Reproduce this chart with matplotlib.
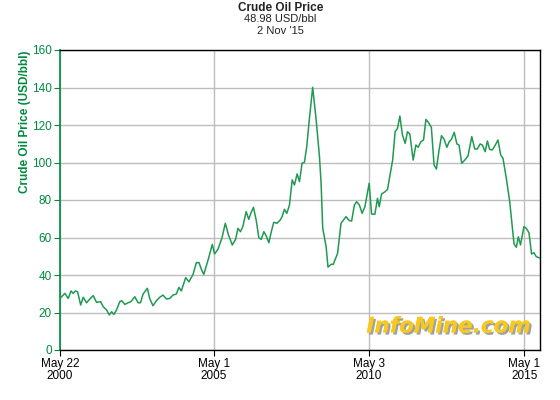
import matplotlib
matplotlib.use("Agg")
import matplotlib.pyplot as plt
import matplotlib.patheffects as pe
import pandas as pd

plt.rcParams['font.family'] = ['Liberation Sans', 'DejaVu Sans']

title = "Crude Oil Price"
subtitle1 = "48.98 USD/bbl"
subtitle2 = "2 Nov '15"
ylabel = "Crude Oil Price (USD/bbl)"

dates = [
    "2000-05-22", "2000-07-19", "2000-08-27", "2000-09-28", "2000-10-24", "2000-11-22", "2000-12-15",
    "2001-01-20", "2001-02-19", "2001-03-30", "2001-05-08", "2001-06-16", "2001-07-26", "2001-09-11",
    "2001-10-12", "2001-11-21", "2001-12-22", "2002-01-19", "2002-02-15", "2002-03-17", "2002-04-25",
    "2002-05-18", "2002-06-23", "2002-08-01", "2002-09-02", "2002-10-18", "2002-11-26", "2002-12-24",
    "2003-01-24", "2003-03-15", "2003-04-11", "2003-05-20", "2003-06-29", "2003-08-07", "2003-09-15",
    "2003-10-24", "2003-12-02", "2004-01-11", "2004-02-19", "2004-03-20", "2004-04-17", "2004-06-07",
    "2004-07-16", "2004-09-02", "2004-10-11", "2004-11-11", "2004-12-09", "2005-01-06", "2005-03-03",
    "2005-04-16", "2005-05-13", "2005-06-21", "2005-08-07", "2005-09-16", "2005-10-24", "2005-12-07",
    "2006-01-15", "2006-02-12", "2006-03-13", "2006-04-10", "2006-05-19", "2006-06-19", "2006-07-17",
    "2006-08-13", "2006-09-14", "2006-10-15", "2006-11-13", "2006-12-13", "2007-01-10", "2007-02-10",
    "2007-03-08", "2007-04-08", "2007-05-17", "2007-06-23", "2007-07-15", "2007-08-12", "2007-09-09",
    "2007-10-10", "2007-11-11", "2007-12-08", "2008-01-08", "2008-02-05", "2008-03-06", "2008-04-03",
    "2008-04-30", "2008-06-01", "2008-07-09", "2008-08-19", "2008-09-27", "2008-10-16", "2008-11-04",
    "2008-12-14", "2009-01-05", "2009-02-11", "2009-03-08", "2009-04-28", "2009-06-07", "2009-08-05",
    "2009-09-13", "2009-10-10", "2009-11-11", "2009-12-08", "2010-01-09", "2010-02-10", "2010-03-15",
    "2010-05-04", "2010-06-01", "2010-07-10", "2010-08-10", "2010-08-30", "2010-09-27", "2010-11-06",
    "2010-12-06", "2011-01-04", "2011-02-04", "2011-03-05", "2011-04-02", "2011-04-30", "2011-05-30",
    "2011-07-01", "2011-07-28", "2011-08-25", "2011-10-03", "2011-11-04", "2011-12-01", "2012-01-02",
    "2012-02-02", "2012-03-01", "2012-04-02", "2012-05-04", "2012-06-05", "2012-07-02", "2012-08-03",
    "2012-08-31", "2012-10-01", "2012-11-02", "2012-11-30", "2012-12-26", "2013-01-28", "2013-02-28",
    "2013-03-25", "2013-04-26", "2013-06-01", "2013-07-09", "2013-08-22", "2013-09-26", "2013-10-27",
    "2013-11-28", "2013-12-25", "2014-01-26", "2014-02-22", "2014-03-20", "2014-04-20", "2014-05-21",
    "2014-06-26", "2014-07-28", "2014-08-24", "2014-10-02", "2014-11-11", "2015-01-01", "2015-01-28",
    "2015-02-20", "2015-03-18", "2015-04-27", "2015-05-24", "2015-06-25", "2015-07-26", "2015-08-22",
    "2015-09-19", "2015-11-02",
]
prices = [
    27.5, 30.2, 27.5, 31.5, 30.2, 31.5, 31.0,
    24.0, 28.1, 25.2, 27.2, 29.0, 25.4, 25.8,
    23.1, 21.3, 18.7, 20.4, 19.0, 21.3, 25.8,
    26.3, 24.3, 25.2, 25.8, 28.4, 25.2, 25.2,
    29.9, 32.9, 27.5, 23.6, 26.3, 28.1, 29.3,
    27.2, 27.5, 29.3, 29.9, 33.4, 31.5, 38.6,
    36.4, 40.3, 46.6, 46.6, 43.0, 40.3, 48.9,
    56.3, 51.2, 53.7, 59.6, 67.6, 61.3, 56.0,
    59.0, 64.9, 63.1, 65.8, 73.8, 69.7, 73.4,
    76.1, 69.3, 59.9, 59.0, 63.1, 60.8, 57.2,
    62.6, 68.1, 67.6, 69.3, 71.1, 75.0, 72.9,
    77.3, 90.7, 88.0, 93.9, 89.8, 99.6, 100.1,
    108.4, 123.6, 140.1, 122.7, 103.0, 88.9, 65.0,
    55.1, 44.2, 45.7, 45.7, 51.6, 67.6, 71.1,
    69.0, 68.8, 77.3, 79.1, 77.3, 72.9, 76.4,
    88.9, 72.5, 72.4, 80.9, 76.4, 83.2, 84.4,
    85.7, 93.3, 101.3, 116.4, 118.2, 124.8, 114.7,
    110.2, 116.4, 115.2, 101.3, 109.3, 108.1, 111.1,
    112.0, 123.0, 121.2, 118.7, 98.7, 96.5, 106.7,
    114.3, 112.4, 108.1, 111.1, 112.4, 116.1, 109.9,
    109.3, 99.6, 101.3, 103.5, 113.8, 107.2, 107.2,
    109.9, 109.3, 105.8, 111.5, 107.0, 106.7, 108.9,
    112.0, 104.0, 102.2, 91.6, 79.1, 56.5, 54.8,
    60.4, 56.0, 65.8, 64.9, 62.6, 51.2, 51.9,
    49.8, 48.98,
]

tick_dates = ["2000-05-22", "2005-05-01", "2010-05-03", "2015-05-01"]
tick_labels = ["May 22\n2000", "May 1\n2005", "May 3\n2010", "May 1\n2015"]
y_ticks = [0, 20, 40, 60, 80, 100, 120, 140, 160]

green_line = "#1f9a52"
green_axis = "#008a3e"

x = pd.to_datetime(dates)

fig = plt.figure(figsize=(5.6, 4.0), dpi=100)
ax = fig.add_axes([60/560, 50/400, 480/560, 300/400])

ax.plot(x, prices, color=green_line, lw=1.1, zorder=3)

ax.set_xlim(pd.Timestamp("2000-05-22"), pd.Timestamp("2015-11-02"))
ax.set_ylim(0, 160)
ax.set_yticks(y_ticks)
ax.set_yticklabels([str(v) for v in y_ticks], color=green_axis, fontsize=8.5)
ax.set_xticks(pd.to_datetime(tick_dates))
ax.set_xticklabels(tick_labels, fontsize=8.5, color="black", linespacing=1.0)

ax.grid(True, color="#bdbdbd", lw=1.0, zorder=0)
ax.set_axisbelow(True)

for s in ["top", "right", "bottom"]:
    ax.spines[s].set_color("black")
    ax.spines[s].set_linewidth(1.0)
ax.spines["left"].set_color(green_axis)
ax.spines["left"].set_linewidth(1.2)

ax.tick_params(axis="y", direction="out", length=4, color=green_axis, pad=2)
ax.tick_params(axis="x", direction="out", length=4, color="black", pad=2)

ax.set_ylabel(ylabel, color=green_axis, fontsize=8.5, fontweight="bold", va="center", ha="center")
ax.yaxis.set_label_coords(-0.072, 0.76)

fig.text(280.5/560, 1 - 8/400, title, ha="center", va="center", fontsize=8.5, fontweight="bold", color="#222222")
fig.text(280/560, 1 - 19.5/400, subtitle1, ha="center", va="center", fontsize=8, color="#222222")
fig.text(280/560, 1 - 31/400, subtitle2, ha="center", va="center", fontsize=8, color="#222222")

ax.text(0.98, 0.045, "InfoMine.com", transform=ax.transAxes, ha="right", va="bottom",
        fontsize=15.5, fontweight="bold", fontstyle="italic", color="#f7c81f", zorder=4,
        family="DejaVu Sans",
        path_effects=[pe.withSimplePatchShadow(offset=(1.5, -1.5), shadow_rgbFace="#888888", alpha=0.8),
                      pe.Normal()])

fig.savefig("out.png", dpi=100, facecolor="white")
